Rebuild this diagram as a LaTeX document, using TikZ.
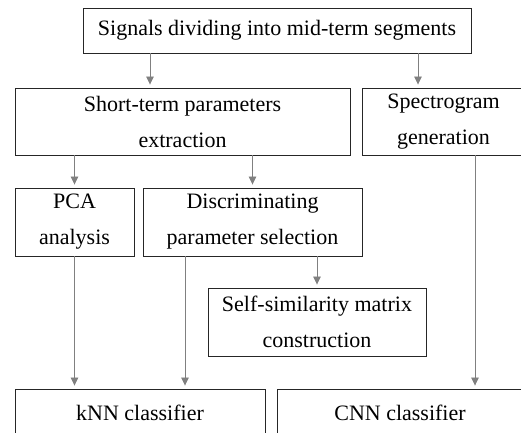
\documentclass[tikz,border=0pt]{standalone}
\usepackage{fontspec}
\setmainfont{Liberation Serif}
\usetikzlibrary{arrows.meta}

\begin{document}
\begin{tikzpicture}[x=1pt,y=-1pt,
  box/.style={draw=black!85,line width=0.9pt,inner sep=0pt,align=center,
    font=\fontsize{22}{36}\selectfont},
  arr/.style={draw=black!50,line width=0.8pt,shorten >=3pt,
    -{Triangle[length=8pt,width=7.5pt]}}]
\useasboundingbox (0,0) rectangle (521,432);
\clip (0,0) rectangle (521,432);
\node[box,minimum width=388,minimum height=45] (sig) at (277,30.5) {Signals dividing into mid-term segments};
\node[box,minimum width=335,minimum height=67] (ste) at (182.5,121.5) {Short-term parameters\\extraction};
\node[box,minimum width=163,minimum height=67] (spec) at (443.5,121.5) {Spectrogram\\generation};
\node[box,minimum width=119,minimum height=68] (pca) at (74.5,222) {PCA\\analysis};
\node[box,minimum width=219,minimum height=68] (disc) at (252.5,222) {Discriminating\\parameter selection};
\node[box,minimum width=218,minimum height=68] (self) at (317,322) {Self-similarity matrix\\construction};
\node[box,minimum width=250,minimum height=48] (knn) at (140,413) {kNN classifier};
\node[box,minimum width=246,minimum height=48] (cnn) at (400,413) {CNN classifier};
\draw[arr] (sig.south -| 150,0) -- (ste.north -| 150,0);
\draw[arr] (sig.south -| 418,0) -- (spec.north -| 418,0);
\draw[arr] (ste.south -| pca.north) -- (pca.north);
\draw[arr] (ste.south -| disc.north) -- (disc.north);
\draw[arr] (disc.south -| self.north) -- (self.north);
\draw[arr] (pca.south) -- (knn.north -| pca.south);
\draw[arr] (disc.south -| 185,0) -- (knn.north -| 185,0);
\draw[arr] (spec.south -| 475,0) -- (cnn.north -| 475,0);
\end{tikzpicture}
\end{document}
